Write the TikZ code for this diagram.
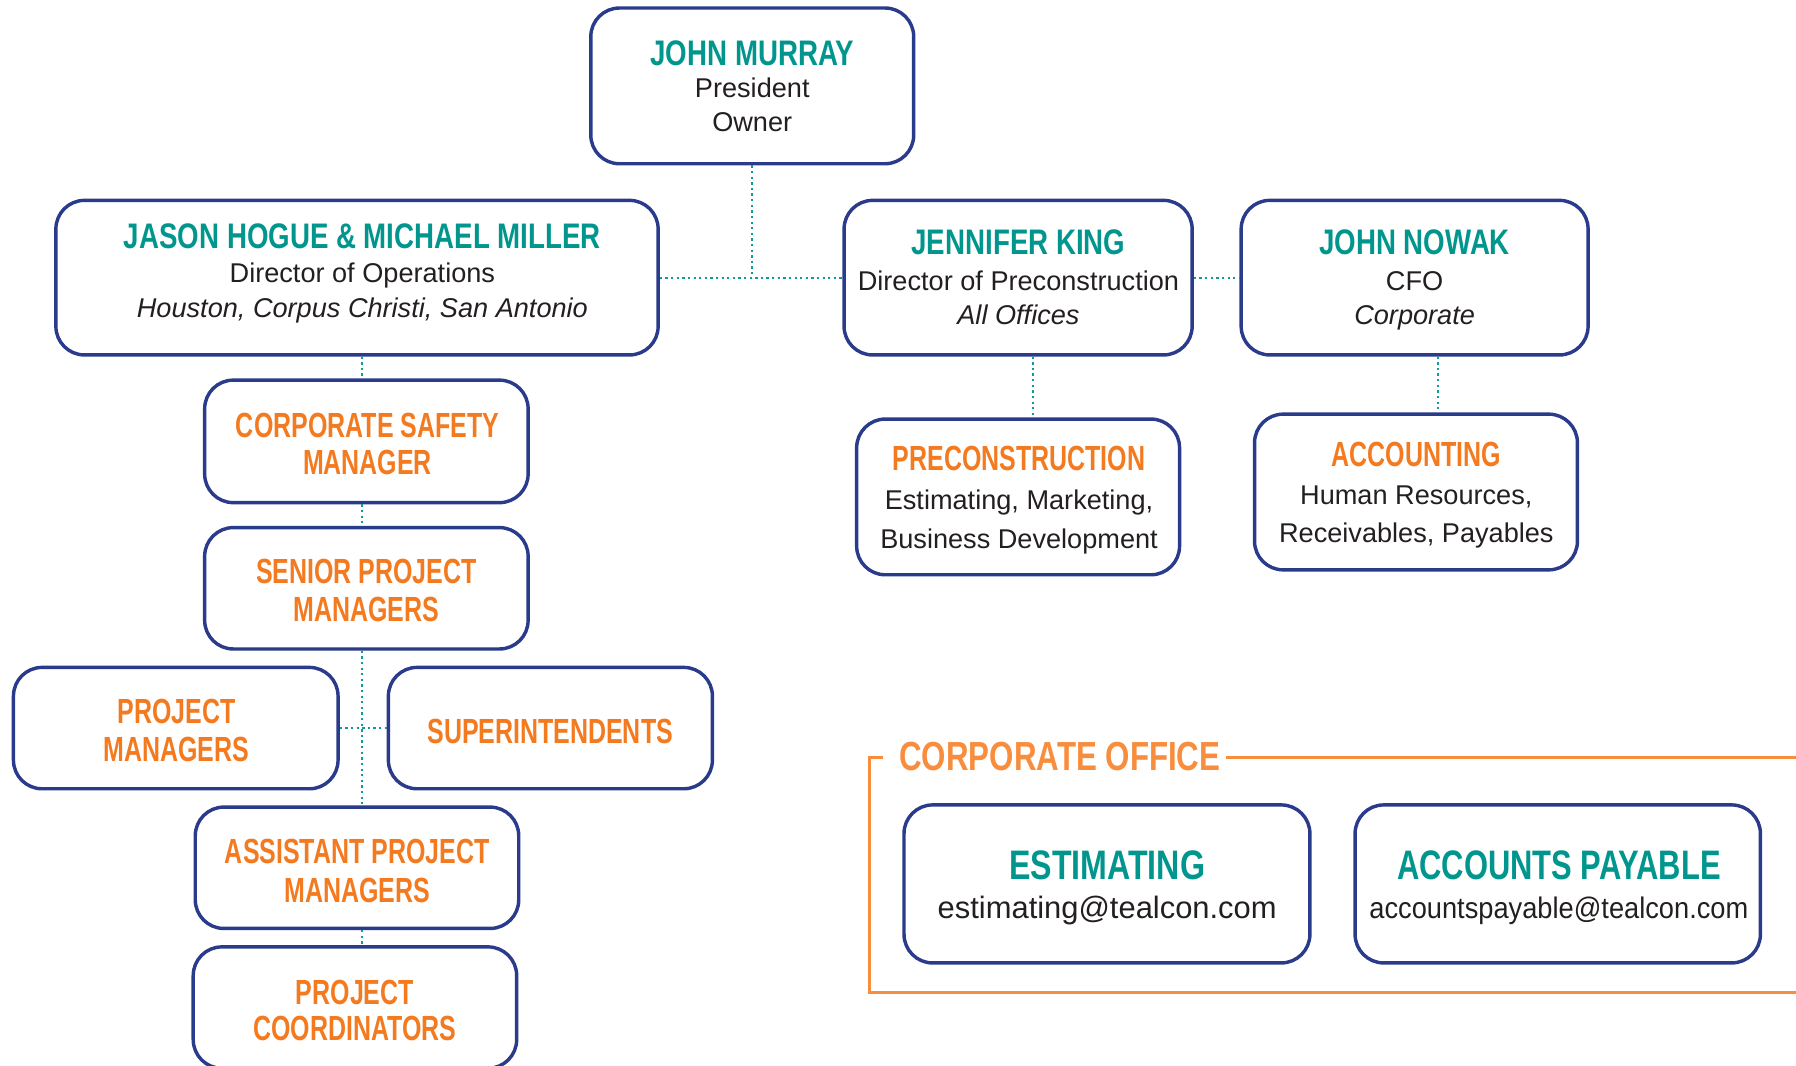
\documentclass[tikz,border=0pt]{standalone}
\usepackage{fontspec}
\setmainfont{Liberation Sans}
\newfontfamily\tealf[FakeStretch=0.78]{Liberation Sans Bold}
\newfontfamily\orgf[FakeStretch=0.715]{Liberation Sans Bold}
\newfontfamily\bigf[FakeStretch=0.78]{Liberation Sans Bold}
\newfontfamily\cof[FakeStretch=0.77]{Liberation Sans Bold}
\newfontfamily\apf[FakeStretch=0.75]{Liberation Sans Bold}
\newfontfamily\mailf[FakeStretch=0.915]{Liberation Sans}
\definecolor{tealc}{HTML}{00968E}
\definecolor{orgc}{HTML}{F47A20}
\definecolor{navyc}{HTML}{2A3B8C}
\definecolor{framec}{HTML}{F98D3E}
\definecolor{linkc}{HTML}{109C94}
\definecolor{txtc}{HTML}{231F20}
\begin{document}
\begin{tikzpicture}[x=1pt,y=-1pt,
 box/.style={draw=navyc, line width=3pt, rounded corners=25pt, inner sep=0pt},
 link/.style={draw=linkc, line width=2pt, dash pattern=on 2pt off 2.9pt},
 frame/.style={draw=framec, line width=2.5pt},
 ln/.style={anchor=base, inner sep=0pt},
 ttl/.style={ln, text=tealc, font=\tealf\fontsize{31}{32}\selectfont},
 otl/.style={ln, text=orgc, font=\orgf\fontsize{30.5}{32}\selectfont},
 bod/.style={ln, text=txtc, font=\fontsize{23.7}{28}\selectfont},
 bodi/.style={ln, text=txtc, font=\fontsize{23.7}{28}\selectfont\itshape},
 big/.style={ln, text=tealc, font=\bigf\fontsize{36}{36}\selectfont},
]
\useasboundingbox (0,0) rectangle (1568.6,931);

% ---------- boxes ----------
\node[box, minimum width=282pt, minimum height=136pt] (jm) at (657,75) {};
\node[box, minimum width=526pt, minimum height=135pt] (jason) at (311.8,242.5) {};
\node[box, minimum width=304pt, minimum height=135pt] (jk) at (889.2,242.5) {};
\node[box, minimum width=303pt, minimum height=135pt] (jn) at (1235.5,242.5) {};
\node[box, minimum width=282.5pt, minimum height=107pt] (csm) at (320,385.5) {};
\node[box, minimum width=282.5pt, minimum height=106pt] (spm) at (320,513.8) {};
\node[box, minimum width=283.5pt, minimum height=106pt] (pm) at (153.5,635.9) {};
\node[box, minimum width=283pt, minimum height=106pt] (sup) at (480.7,635.9) {};
\node[box, minimum width=282.5pt, minimum height=106pt] (apm) at (311.8,757.9) {};
\node[box, minimum width=282.5pt, minimum height=106pt] (pc) at (310,880) {};
\node[box, minimum width=282pt, minimum height=136pt] (pre) at (889.2,434) {};
\node[box, minimum width=282pt, minimum height=136pt] (acc) at (1236.7,429.7) {};
\node[box, minimum width=354.5pt, minimum height=138pt] (est) at (966.8,772) {};
\node[box, minimum width=354pt, minimum height=138pt] (ap) at (1360.5,772) {};

% ---------- texts ----------
\node[ttl] (jm1) at (657,57) {JOHN MURRAY};
\node[bod] (jm2) at (657,85.5) {President};
\node[bod] (jm3) at (657,115) {Owner};

\node[ttl] (ja1) at (316.5,217) {JASON HOGUE \& MICHAEL MILLER};
\node[bod] (ja2) at (316.5,247) {Director of Operations};
\node[bodi] (ja3) at (316.5,277) {Houston, Corpus Christi, San Antonio};

\node[ttl] (jk1) at (889.5,222.5) {JENNIFER KING};
\node[bod] (jk2) at (889.5,254) {Director of Preconstruction};
\node[bodi] (jk3) at (889.5,283.5) {All Offices};

\node[ttl] (jn1) at (1235.5,222.5) {JOHN NOWAK};
\node[bod] (jn2) at (1235.5,254) {CFO};
\node[bodi] (jn3) at (1235.5,283.5) {Corporate};

\node[otl] (csm1) at (321,382) {CORPORATE SAFETY};
\node[otl] (csm2) at (321,414.5) {MANAGER};

\node[otl] (spm1) at (320,510) {SENIOR PROJECT};
\node[otl] (spm2) at (320,543) {MANAGERS};

\node[otl] (pm1) at (154,632) {PROJECT};
\node[otl] (pm2) at (154,665) {MANAGERS};

\node[otl] (sup1) at (480.5,649) {SUPERINTENDENTS};

\node[otl] (apm1) at (312,754) {ASSISTANT PROJECT};
\node[otl] (apm2) at (312,788) {MANAGERS};

\node[otl] (pc1) at (310,877) {PROJECT};
\node[otl] (pc2) at (310,909) {COORDINATORS};

\node[otl] (pre1) at (890,411) {PRECONSTRUCTION};
\node[bod] (pre2) at (890,445) {Estimating, Marketing,};
\node[bod] (pre3) at (890,479) {Business Development};

\node[otl] (acc1) at (1237,407) {ACCOUNTING};
\node[bod] (acc2) at (1237,440.5) {Human Resources,};
\node[bod] (acc3) at (1237,473.5) {Receivables, Payables};

\node[big] (est1) at (967,768) {ESTIMATING};
\node[ln, text=txtc, font=\fontsize{27}{28}\selectfont] (est2) at (967,802) {estimating@tealcon.com};

\node[ln, text=tealc, font=\apf\fontsize{36}{36}\selectfont] (ap1) at (1361.5,768) {ACCOUNTS PAYABLE};
\node[ln, text=txtc, font=\mailf\fontsize{26}{28}\selectfont] (ap2) at (1361.5,802) {accountspayable@tealcon.com};

% ---------- connectors ----------
\coordinate (colx) at (316,0);
\coordinate (prex) at (902.5,0);
\coordinate (accx) at (1255.8,0);
\draw[link] (jm.south) -- (jm.south |- jason.east);
\draw[link] (jason.east) -- (jk.west);
\draw[link] (jk.east) -- (jn.west);
\draw[link] (jason.south -| colx) -- (csm.north -| colx);
\draw[link] (csm.south -| colx) -- (spm.north -| colx);
\draw[link] (spm.south -| colx) -- (apm.north -| colx);
\draw[link] (pm.east) -- (sup.west);
\draw[link] (apm.south -| colx) -- (pc.north -| colx);
\draw[link] (jk.south -| prex) -- (pre.north -| prex);
\draw[link] (jn.south -| accx) -- (acc.north -| accx);

% ---------- corporate office frame ----------
\node[ln, anchor=base west, text=framec, font=\cof\fontsize{35.5}{36}\selectfont] (cot) at (785.3,673) {CORPORATE OFFICE};
\coordinate (ftop) at (0,661.8);
\path (cot.west) ++(-14,0) coordinate (fl);
\path (cot.east) ++(5,0) coordinate (fr);
\draw[frame] (fl |- ftop) -- (759.5,661.8) -- (759.5,867.1) -- (1600,867.1);
\draw[frame] (fr |- ftop) -- (1600,661.8);
\end{tikzpicture}
\end{document}
